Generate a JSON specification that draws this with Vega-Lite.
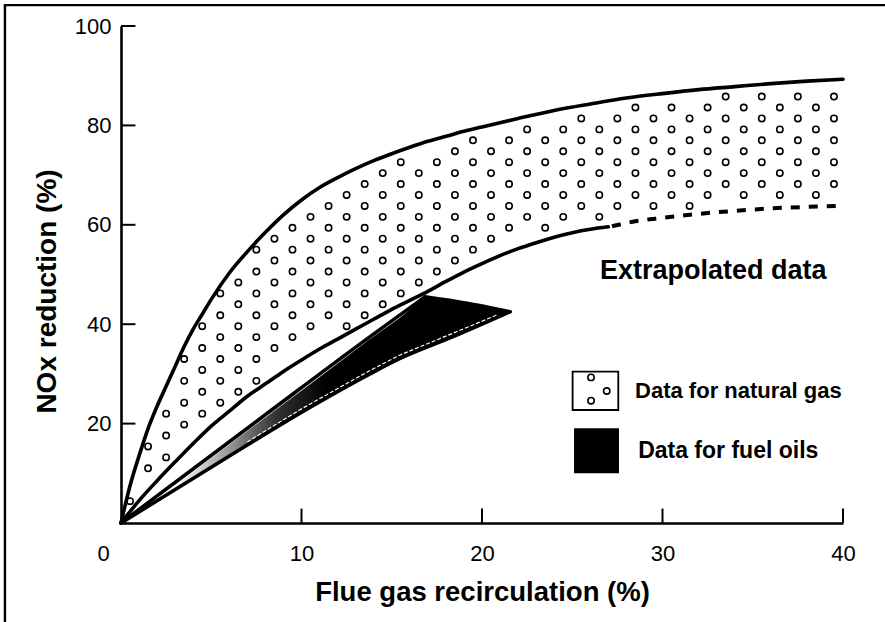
{
  "$schema": "https://vega.github.io/schema/vega-lite/v6.json",
  "width": 722,
  "height": 497,
  "autosize": {"type": "none"},
  "padding": {"left": 121, "top": 26, "right": 42, "bottom": 99},
  "background": "white",
  "config": {"view": {"stroke": null}, "font": "Liberation Sans"},
  "encoding": {
    "x": {
      "field": "x", "type": "quantitative",
      "scale": {"domain": [0, 40], "nice": false, "zero": false},
      "axis": {
        "values": [0, 10, 20, 30, 40],
        "title": "Flue gas recirculation (%)",
        "grid": false, "ticks": false,
        "domainColor": "black", "domainWidth": 2.6,
        "labelFont": "Liberation Sans", "labelFontSize": 22, "labelColor": "black",
        "labelPadding": 20, "labelFlush": false, "labelOverlap": false,
        "labelOffset": {"condition": {"test": "datum.value === 0", "value": -18}, "value": 0},
        "titleFont": "Liberation Sans", "titleFontSize": 27.5, "titleFontWeight": "bold", "titleColor": "black",
        "titleY": 77, "titleBaseline": "alphabetic"
      }
    },
    "y": {
      "field": "y", "type": "quantitative",
      "scale": {"domain": [0, 100], "nice": false, "zero": false},
      "axis": {
        "values": [20, 40, 60, 80, 100],
        "title": "NOx reduction (%)",
        "grid": false, "ticks": false,
        "domainColor": "black", "domainWidth": 2.6,
        "labelFont": "Liberation Sans", "labelFontSize": 22, "labelColor": "black",
        "labelPadding": 10, "labelFlush": false, "labelOverlap": false,
        "titleFont": "Liberation Sans", "titleFontSize": 28, "titleFontWeight": "bold", "titleColor": "black",
        "titleX": -66, "titleY": 265, "titleAngle": 270, "titleAlign": "center", "titleBaseline": "alphabetic"
      }
    }
  },
  "layer": [
    {
      "data": {"values": [{"x": -6.43, "x2": 42.6, "y": 104.2, "y2": -21}]},
      "mark": {"type": "rect", "filled": false, "stroke": "black", "strokeWidth": 2.4},
      "encoding": {"x2": {"field": "x2"}, "y2": {"field": "y2"}}
    },
    {
      "data": {"values": [
        {"x": 0, "x2": 0.8, "y": 20}, {"x": 0, "x2": 0.8, "y": 40}, {"x": 0, "x2": 0.8, "y": 60},
        {"x": 0, "x2": 0.8, "y": 80}, {"x": 0, "x2": 0.8, "y": 100}
      ]},
      "mark": {"type": "rule", "color": "black", "strokeWidth": 2},
      "encoding": {"x2": {"field": "x2"}}
    },
    {
      "data": {"values": [
        {"x": 10, "y": 0, "y2": 2.9}, {"x": 20, "y": 0, "y2": 2.9}, {"x": 30, "y": 0, "y2": 2.9}, {"x": 40, "y": 0, "y2": 2.9}
      ]},
      "mark": {"type": "rule", "color": "black", "strokeWidth": 2},
      "encoding": {"y2": {"field": "y2"}}
    },
    {
      "data": {"values": [
        {"x": 3, "y": 7.6, "y2": 6.8},
        {"x": 6, "y": 15.8, "y2": 13.4},
        {"x": 9.92, "y": 26.4, "y2": 22.1},
        {"x": 13.8, "y": 37.0, "y2": 30.0},
        {"x": 15.46, "y": 41.3, "y2": 33.1},
        {"x": 16.84, "y": 45.4, "y2": 35.2},
        {"x": 18.4, "y": 44.5, "y2": 37.5},
        {"x": 20, "y": 43.5, "y2": 40.0},
        {"x": 21.55, "y": 42.5, "y2": 42.5}
      ]},
      "mark": {
        "type": "area",
        "fill": {"gradient": "linear", "x1": 0, "y1": 0, "x2": 1, "y2": 0,
          "stops": [
            {"offset": 0, "color": "#ffffff"},
            {"offset": 0.15, "color": "#a0a0a0"},
            {"offset": 0.3, "color": "#333333"},
            {"offset": 0.45, "color": "#000000"},
            {"offset": 1, "color": "#000000"}
          ]},
        "stroke": null
      },
      "encoding": {"y2": {"field": "y2"}}
    },
    {
      "data": {"values": [
        {"x": 7, "y": 16.3}, {"x": 9.92, "y": 22.8}, {"x": 13.8, "y": 30.7},
        {"x": 15.46, "y": 33.8}, {"x": 18.4, "y": 38.2}, {"x": 20.8, "y": 41.8}
      ]},
      "mark": {"type": "line", "color": "white", "strokeWidth": 1.2, "strokeDash": [4, 2]}
    },
    {
      "data": {"values": [
        {"x": 0.5, "y": 4.4},
        {"x": 1.5, "y": 11}, {"x": 1.5, "y": 15.4},
        {"x": 2.5, "y": 13.2}, {"x": 2.5, "y": 17.6}, {"x": 2.5, "y": 22},
        {"x": 3.5, "y": 19.8}, {"x": 3.5, "y": 24.2}, {"x": 3.5, "y": 28.6}, {"x": 3.5, "y": 33},
        {"x": 4.5, "y": 22}, {"x": 4.5, "y": 26.4}, {"x": 4.5, "y": 30.8}, {"x": 4.5, "y": 35.2}, {"x": 4.5, "y": 39.6},
        {"x": 5.5, "y": 24.2}, {"x": 5.5, "y": 28.6}, {"x": 5.5, "y": 33}, {"x": 5.5, "y": 37.4}, {"x": 5.5, "y": 41.8}, {"x": 5.5, "y": 46.2},
        {"x": 6.5, "y": 26.4}, {"x": 6.5, "y": 30.8}, {"x": 6.5, "y": 35.2}, {"x": 6.5, "y": 39.6}, {"x": 6.5, "y": 44}, {"x": 6.5, "y": 48.4},
        {"x": 7.5, "y": 28.6}, {"x": 7.5, "y": 33}, {"x": 7.5, "y": 37.4}, {"x": 7.5, "y": 41.8}, {"x": 7.5, "y": 46.2}, {"x": 7.5, "y": 50.6}, {"x": 7.5, "y": 55},
        {"x": 8.5, "y": 35.2}, {"x": 8.5, "y": 39.6}, {"x": 8.5, "y": 44}, {"x": 8.5, "y": 48.4}, {"x": 8.5, "y": 52.8}, {"x": 8.5, "y": 57.2},
        {"x": 9.5, "y": 37.4}, {"x": 9.5, "y": 41.8}, {"x": 9.5, "y": 46.2}, {"x": 9.5, "y": 50.6}, {"x": 9.5, "y": 55}, {"x": 9.5, "y": 59.4},
        {"x": 10.5, "y": 39.6}, {"x": 10.5, "y": 44}, {"x": 10.5, "y": 48.4}, {"x": 10.5, "y": 52.8}, {"x": 10.5, "y": 57.2}, {"x": 10.5, "y": 61.6},
        {"x": 11.5, "y": 41.8}, {"x": 11.5, "y": 46.2}, {"x": 11.5, "y": 50.6}, {"x": 11.5, "y": 55}, {"x": 11.5, "y": 59.4}, {"x": 11.5, "y": 63.8},
        {"x": 12.5, "y": 39.6}, {"x": 12.5, "y": 44}, {"x": 12.5, "y": 48.4}, {"x": 12.5, "y": 52.8}, {"x": 12.5, "y": 57.2}, {"x": 12.5, "y": 61.6}, {"x": 12.5, "y": 66},
        {"x": 13.5, "y": 41.8}, {"x": 13.5, "y": 46.2}, {"x": 13.5, "y": 50.6}, {"x": 13.5, "y": 55}, {"x": 13.5, "y": 59.4}, {"x": 13.5, "y": 63.8}, {"x": 13.5, "y": 68.2},
        {"x": 14.5, "y": 44}, {"x": 14.5, "y": 48.4}, {"x": 14.5, "y": 52.8}, {"x": 14.5, "y": 57.2}, {"x": 14.5, "y": 61.6}, {"x": 14.5, "y": 66}, {"x": 14.5, "y": 70.4},
        {"x": 15.5, "y": 46.2}, {"x": 15.5, "y": 50.6}, {"x": 15.5, "y": 55}, {"x": 15.5, "y": 59.4}, {"x": 15.5, "y": 63.8}, {"x": 15.5, "y": 68.2}, {"x": 15.5, "y": 72.6},
        {"x": 16.5, "y": 48.4}, {"x": 16.5, "y": 52.8}, {"x": 16.5, "y": 57.2}, {"x": 16.5, "y": 61.6}, {"x": 16.5, "y": 66}, {"x": 16.5, "y": 70.4},
        {"x": 17.5, "y": 50.6}, {"x": 17.5, "y": 55}, {"x": 17.5, "y": 59.4}, {"x": 17.5, "y": 63.8}, {"x": 17.5, "y": 68.2}, {"x": 17.5, "y": 72.6},
        {"x": 18.5, "y": 52.8}, {"x": 18.5, "y": 57.2}, {"x": 18.5, "y": 61.6}, {"x": 18.5, "y": 66}, {"x": 18.5, "y": 70.4}, {"x": 18.5, "y": 74.8},
        {"x": 19.5, "y": 55}, {"x": 19.5, "y": 59.4}, {"x": 19.5, "y": 63.8}, {"x": 19.5, "y": 68.2}, {"x": 19.5, "y": 72.6}, {"x": 19.5, "y": 77},
        {"x": 20.5, "y": 57.2}, {"x": 20.5, "y": 61.6}, {"x": 20.5, "y": 66}, {"x": 20.5, "y": 70.4}, {"x": 20.5, "y": 74.8},
        {"x": 21.5, "y": 59.4}, {"x": 21.5, "y": 63.8}, {"x": 21.5, "y": 68.2}, {"x": 21.5, "y": 72.6}, {"x": 21.5, "y": 77},
        {"x": 22.5, "y": 61.6}, {"x": 22.5, "y": 66}, {"x": 22.5, "y": 70.4}, {"x": 22.5, "y": 74.8}, {"x": 22.5, "y": 79.2},
        {"x": 23.5, "y": 59.4}, {"x": 23.5, "y": 63.8}, {"x": 23.5, "y": 68.2}, {"x": 23.5, "y": 72.6}, {"x": 23.5, "y": 77},
        {"x": 24.5, "y": 61.6}, {"x": 24.5, "y": 66}, {"x": 24.5, "y": 70.4}, {"x": 24.5, "y": 74.8}, {"x": 24.5, "y": 79.2},
        {"x": 25.5, "y": 63.8}, {"x": 25.5, "y": 68.2}, {"x": 25.5, "y": 72.6}, {"x": 25.5, "y": 77}, {"x": 25.5, "y": 81.4},
        {"x": 26.5, "y": 61.6}, {"x": 26.5, "y": 66}, {"x": 26.5, "y": 70.4}, {"x": 26.5, "y": 74.8}, {"x": 26.5, "y": 79.2},
        {"x": 27.5, "y": 63.8}, {"x": 27.5, "y": 68.2}, {"x": 27.5, "y": 72.6}, {"x": 27.5, "y": 77}, {"x": 27.5, "y": 81.4},
        {"x": 28.5, "y": 66}, {"x": 28.5, "y": 70.4}, {"x": 28.5, "y": 74.8}, {"x": 28.5, "y": 79.2}, {"x": 28.5, "y": 83.6},
        {"x": 29.5, "y": 63.8}, {"x": 29.5, "y": 68.2}, {"x": 29.5, "y": 72.6}, {"x": 29.5, "y": 77}, {"x": 29.5, "y": 81.4},
        {"x": 30.5, "y": 66}, {"x": 30.5, "y": 70.4}, {"x": 30.5, "y": 74.8}, {"x": 30.5, "y": 79.2}, {"x": 30.5, "y": 83.6},
        {"x": 31.5, "y": 63.8}, {"x": 31.5, "y": 68.2}, {"x": 31.5, "y": 72.6}, {"x": 31.5, "y": 77}, {"x": 31.5, "y": 81.4},
        {"x": 32.5, "y": 66}, {"x": 32.5, "y": 70.4}, {"x": 32.5, "y": 74.8}, {"x": 32.5, "y": 79.2}, {"x": 32.5, "y": 83.6},
        {"x": 33.5, "y": 68.2}, {"x": 33.5, "y": 72.6}, {"x": 33.5, "y": 77}, {"x": 33.5, "y": 81.4}, {"x": 33.5, "y": 85.8},
        {"x": 34.5, "y": 66}, {"x": 34.5, "y": 70.4}, {"x": 34.5, "y": 74.8}, {"x": 34.5, "y": 79.2}, {"x": 34.5, "y": 83.6},
        {"x": 35.5, "y": 68.2}, {"x": 35.5, "y": 72.6}, {"x": 35.5, "y": 77}, {"x": 35.5, "y": 81.4}, {"x": 35.5, "y": 85.8},
        {"x": 36.5, "y": 66}, {"x": 36.5, "y": 70.4}, {"x": 36.5, "y": 74.8}, {"x": 36.5, "y": 79.2}, {"x": 36.5, "y": 83.6},
        {"x": 37.5, "y": 68.2}, {"x": 37.5, "y": 72.6}, {"x": 37.5, "y": 77}, {"x": 37.5, "y": 81.4}, {"x": 37.5, "y": 85.8},
        {"x": 38.5, "y": 66}, {"x": 38.5, "y": 70.4}, {"x": 38.5, "y": 74.8}, {"x": 38.5, "y": 79.2}, {"x": 38.5, "y": 83.6},
        {"x": 39.5, "y": 68.2}, {"x": 39.5, "y": 72.6}, {"x": 39.5, "y": 77}, {"x": 39.5, "y": 81.4}, {"x": 39.5, "y": 85.8}
      ]},
      "mark": {"type": "point", "shape": "circle", "size": 40, "filled": false, "stroke": "black", "strokeWidth": 1.6, "opacity": 1}
    },
    {
      "data": {"values": [
        {"s": "upper", "x": 0, "y": 0}, {"s": "upper", "x": 0.5, "y": 7.5}, {"s": "upper", "x": 1, "y": 13.5},
        {"s": "upper", "x": 1.5, "y": 19}, {"s": "upper", "x": 2, "y": 23.5}, {"s": "upper", "x": 2.5, "y": 27.5},
        {"s": "upper", "x": 3, "y": 31.5}, {"s": "upper", "x": 3.5, "y": 35.5}, {"s": "upper", "x": 4, "y": 39},
        {"s": "upper", "x": 4.5, "y": 42}, {"s": "upper", "x": 5, "y": 45}, {"s": "upper", "x": 6, "y": 50.3},
        {"s": "upper", "x": 7, "y": 54.6}, {"s": "upper", "x": 8, "y": 58.5}, {"s": "upper", "x": 9, "y": 62},
        {"s": "upper", "x": 10, "y": 65}, {"s": "upper", "x": 11, "y": 67.5}, {"s": "upper", "x": 12, "y": 69.5},
        {"s": "upper", "x": 13, "y": 71.3}, {"s": "upper", "x": 14, "y": 72.9}, {"s": "upper", "x": 15, "y": 74.3},
        {"s": "upper", "x": 16, "y": 75.6}, {"s": "upper", "x": 17, "y": 76.8}, {"s": "upper", "x": 18, "y": 77.8},
        {"s": "upper", "x": 19, "y": 78.8}, {"s": "upper", "x": 20, "y": 79.7}, {"s": "upper", "x": 22, "y": 81.4},
        {"s": "upper", "x": 24, "y": 83.0}, {"s": "upper", "x": 26, "y": 84.3}, {"s": "upper", "x": 28, "y": 85.5},
        {"s": "upper", "x": 30, "y": 86.4}, {"s": "upper", "x": 32, "y": 87.2}, {"s": "upper", "x": 34, "y": 87.8},
        {"s": "upper", "x": 36, "y": 88.4}, {"s": "upper", "x": 38, "y": 88.9}, {"s": "upper", "x": 40, "y": 89.3},
        {"s": "gaslower", "x": 0, "y": 0}, {"s": "gaslower", "x": 1, "y": 4.5}, {"s": "gaslower", "x": 2, "y": 8.5},
        {"s": "gaslower", "x": 3, "y": 12.3}, {"s": "gaslower", "x": 4, "y": 16}, {"s": "gaslower", "x": 5, "y": 19.5},
        {"s": "gaslower", "x": 6, "y": 22.5}, {"s": "gaslower", "x": 7, "y": 25.5}, {"s": "gaslower", "x": 8, "y": 28},
        {"s": "gaslower", "x": 9, "y": 30.5}, {"s": "gaslower", "x": 10, "y": 32.8}, {"s": "gaslower", "x": 11, "y": 35},
        {"s": "gaslower", "x": 12, "y": 37}, {"s": "gaslower", "x": 13, "y": 39}, {"s": "gaslower", "x": 14, "y": 41},
        {"s": "gaslower", "x": 15, "y": 43}, {"s": "gaslower", "x": 16, "y": 44.8}, {"s": "gaslower", "x": 17, "y": 46.6},
        {"s": "gaslower", "x": 18, "y": 48.6}, {"s": "gaslower", "x": 19, "y": 50.5}, {"s": "gaslower", "x": 20, "y": 52.2},
        {"s": "gaslower", "x": 21, "y": 53.8}, {"s": "gaslower", "x": 22, "y": 55.2}, {"s": "gaslower", "x": 23, "y": 56.4},
        {"s": "gaslower", "x": 24, "y": 57.5}, {"s": "gaslower", "x": 25, "y": 58.4}, {"s": "gaslower", "x": 26, "y": 59.1},
        {"s": "gaslower", "x": 27, "y": 59.6},
        {"s": "fuelupper", "x": 0, "y": 0}, {"s": "fuelupper", "x": 8, "y": 21.8}, {"s": "fuelupper", "x": 13.8, "y": 37.5},
        {"s": "fuelupper", "x": 16.84, "y": 45.5},
        {"s": "fueltop", "x": 16.84, "y": 45.5}, {"s": "fueltop", "x": 19.17, "y": 44.2}, {"s": "fueltop", "x": 21.55, "y": 42.5},
        {"s": "fuellower", "x": 0, "y": 0}, {"s": "fuellower", "x": 5, "y": 11.2}, {"s": "fuellower", "x": 9.92, "y": 22.1},
        {"s": "fuellower", "x": 13.8, "y": 30.0}, {"s": "fuellower", "x": 15.46, "y": 33.1}, {"s": "fuellower", "x": 18.4, "y": 37.5},
        {"s": "fuellower", "x": 21.55, "y": 42.5}
      ]},
      "mark": {"type": "line", "color": "black", "strokeWidth": 3.6, "interpolate": "monotone", "strokeCap": "round"},
      "encoding": {"detail": {"field": "s"}}
    },
    {
      "data": {"values": [
        {"x": 27.2, "y": 59.7}, {"x": 28.5, "y": 60.7}, {"x": 30, "y": 61.4}, {"x": 32, "y": 62.2},
        {"x": 34, "y": 62.8}, {"x": 36, "y": 63.3}, {"x": 38, "y": 63.6}, {"x": 40, "y": 63.8}
      ]},
      "mark": {"type": "line", "color": "black", "strokeWidth": 4, "strokeDash": [9, 9], "interpolate": "monotone"}
    },
    {
      "data": {"values": [{"x": 25.02, "x2": 27.55, "y": 30.44, "y2": 22.74}]},
      "mark": {"type": "rect", "fill": "white", "stroke": "black", "strokeWidth": 1.8},
      "encoding": {"x2": {"field": "x2"}, "y2": {"field": "y2"}}
    },
    {
      "data": {"values": [{"x": 26.04, "y": 29.3}, {"x": 26.91, "y": 26.56}, {"x": 26.04, "y": 24.61}]},
      "mark": {"type": "point", "shape": "circle", "size": 40, "filled": false, "stroke": "black", "strokeWidth": 1.6, "opacity": 1}
    },
    {
      "data": {"values": [{"x": 25.1, "x2": 27.59, "y": 19.05, "y2": 10.0}]},
      "mark": {"type": "rect", "fill": "black", "stroke": null},
      "encoding": {"x2": {"field": "x2"}, "y2": {"field": "y2"}}
    },
    {
      "data": {"values": [{"x": 26.54, "y": 49.1, "t": "Extrapolated data"}]},
      "mark": {"type": "text", "align": "left", "baseline": "alphabetic", "font": "Liberation Sans", "fontSize": 27, "fontWeight": "bold", "color": "black"},
      "encoding": {"text": {"field": "t"}}
    },
    {
      "data": {"values": [{"x": 28.48, "y": 25.15, "t": "Data for natural gas"}]},
      "mark": {"type": "text", "align": "left", "baseline": "alphabetic", "font": "Liberation Sans", "fontSize": 22, "fontWeight": "bold", "color": "black"},
      "encoding": {"text": {"field": "t"}}
    },
    {
      "data": {"values": [{"x": 28.65, "y": 13.08, "t": "Data for fuel oils"}]},
      "mark": {"type": "text", "align": "left", "baseline": "alphabetic", "font": "Liberation Sans", "fontSize": 23, "fontWeight": "bold", "color": "black"},
      "encoding": {"text": {"field": "t"}}
    }
  ]
}
